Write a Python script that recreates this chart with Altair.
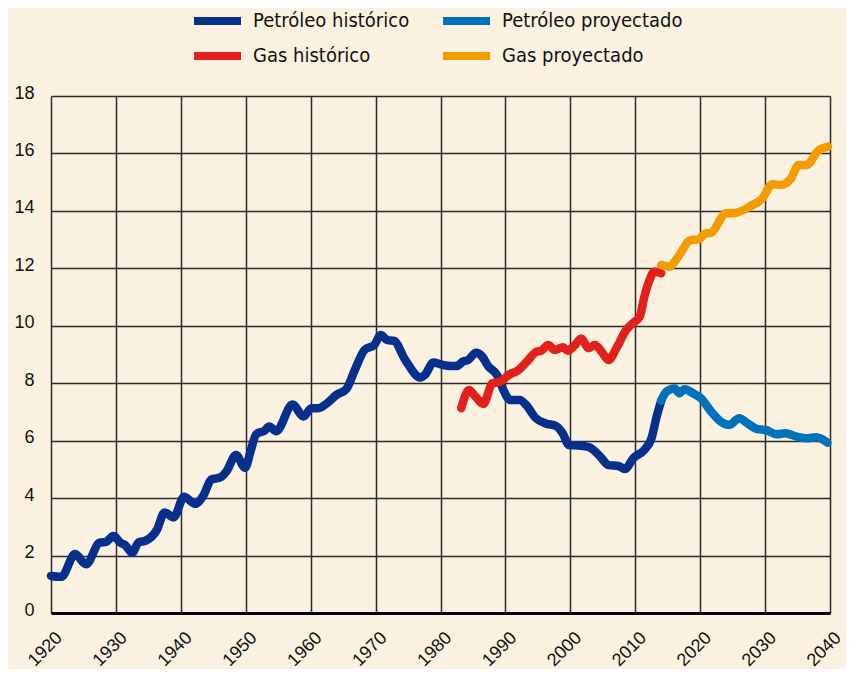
import altair as alt
import pandas as pd

series_names = ["Petróleo histórico", "Gas histórico", "Petróleo proyectado", "Gas proyectado"]
series_colors = ["#06308B", "#E3211C", "#0072BC", "#F29C00"]

oil_hist_years = [1920, 1921.6, 1923.7, 1925.4, 1927.5, 1928.5, 1929.6, 1930.8, 1931.4, 1932.5,
                  1933.5, 1934.6, 1936.3, 1937.5, 1938.9, 1940.5, 1942.2, 1943.5, 1944.7, 1946.1,
                  1947, 1948.5, 1949.9, 1950.8, 1951.6, 1952.9, 1953.6, 1954.7, 1957.2, 1958.9,
                  1960.1, 1961.2, 1962.5, 1964, 1965.5, 1966.8, 1968.3, 1969.8, 1970.8, 1971.8,
                  1972.8, 1974.6, 1976.9, 1977.6, 1978.9, 1980.3, 1981.5, 1982.5, 1983.5, 1984.2,
                  1985.5, 1986.3, 1987.4, 1988.7, 1989.7, 1990.7, 1992.2, 1993.2, 1994.7, 1996.2,
                  1997.8, 1998.8, 1999.8, 2001.3, 2002.9, 2004.4, 2005.9, 2007.4, 2008.4, 2009.7,
                  2011.4, 2012.5, 2013.3, 2014]
oil_hist_values = [1.29, 1.26, 2.05, 1.7, 2.45, 2.48, 2.68, 2.43, 2.37, 2.1,
                   2.46, 2.52, 2.89, 3.5, 3.33, 4.05, 3.8, 4.1, 4.65, 4.72,
                   4.92, 5.5, 5.06, 5.68, 6.22, 6.35, 6.49, 6.33, 7.26, 6.84,
                   7.13, 7.13, 7.3, 7.6, 7.8, 8.46, 9.16, 9.33, 9.68, 9.5,
                   9.48, 8.8, 8.2, 8.29, 8.72, 8.64, 8.6, 8.6, 8.76, 8.8,
                   9.06, 8.96, 8.58, 8.29, 7.76, 7.42, 7.42, 7.24, 6.78, 6.6,
                   6.51, 6.26, 5.85, 5.83, 5.77, 5.5, 5.15, 5.12, 5.01, 5.39,
                   5.68, 6.08, 6.84, 7.4]

oil_proj_years = [2014, 2014.8, 2016.1, 2016.8, 2017.6, 2018.9, 2020.1, 2021.7, 2023.2, 2024.5,
                  2026, 2027.3, 2028.8, 2030.1, 2031.8, 2033.1, 2034.9, 2036.4, 2037.9, 2039.6]
oil_proj_values = [7.4, 7.71, 7.82, 7.65, 7.79, 7.65, 7.48, 7.01, 6.66, 6.55,
                   6.78, 6.6, 6.4, 6.37, 6.22, 6.26, 6.14, 6.08, 6.12, 5.93]

gas_hist_years = [1983.2, 1984.4, 1985.4, 1986.6, 1988, 1989.2, 1990.5, 1992, 1993.3, 1994.8,
                  1995.5, 1996.6, 1997.6, 1998.9, 1999.6, 2000.7, 2001.7, 2002.8, 2003.8, 2004.8,
                  2005.9, 2007.1, 2008.6, 2009.9, 2010.7, 2011.4, 2012.2, 2012.9, 2014]
gas_hist_values = [7.13, 7.76, 7.53, 7.28, 8.0, 8.05, 8.29, 8.46, 8.75, 9.1,
                   9.13, 9.33, 9.16, 9.25, 9.13, 9.33, 9.56, 9.22, 9.33, 9.1,
                   8.81, 9.22, 9.85, 10.14, 10.32, 11.01, 11.59, 11.88, 11.83]

gas_proj_years = [2014, 2015.3, 2016.6, 2018.6, 2019.7, 2020.7, 2021.7, 2024, 2025.1, 2027.8,
                  2029.6, 2031.1, 2032.4, 2033.9, 2035.2, 2036.4, 2038.2, 2039.7]
gas_proj_values = [12.12, 12.06, 12.4, 12.99, 13.0, 13.2, 13.24, 13.92, 13.92, 14.17,
                   14.44, 14.93, 14.9, 15.1, 15.6, 15.6, 16.1, 16.24]

x_ticks = list(range(1920, 2041, 10))
y_ticks = list(range(0, 19, 2))

frames = []
for name, ys, vs in [
    ("Petróleo histórico", oil_hist_years, oil_hist_values),
    ("Petróleo proyectado", oil_proj_years, oil_proj_values),
    ("Gas histórico", gas_hist_years, gas_hist_values),
    ("Gas proyectado", gas_proj_years, gas_proj_values),
]:
    frames.append(pd.DataFrame({"year": ys, "value": vs, "serie": name}))
df = pd.concat(frames, ignore_index=True)

bg = "#FAF1E1"

chart = alt.Chart(df).mark_line(
    strokeWidth=8.5, strokeCap="round", strokeJoin="round", interpolate="monotone"
).encode(
    x=alt.X("year:Q", scale=alt.Scale(domain=[1920, 2040], nice=False, zero=False),
            axis=alt.Axis(values=x_ticks, format="d", title=None, labelAngle=-45,
                          labelAlign="center", labelBaseline="middle", labelPadding=36,
                          labelOffset=-6, ticks=False, grid=True, gridColor="#2b2b2b",
                          gridWidth=1.5, domain=True, domainColor="#000000", domainWidth=3,
                          labelFont="Liberation Sans", labelFontSize=18, labelColor="#111111",
                          labelFlush=False, labelOverlap=False)),
    y=alt.Y("value:Q", scale=alt.Scale(domain=[0, 18], nice=False),
            axis=alt.Axis(values=y_ticks, title=None, ticks=False, grid=True,
                          gridColor="#2b2b2b", gridWidth=1.5, domain=False,
                          labelPadding=17, labelBaseline="middle", labelOffset=-3,
                          labelFont="Liberation Sans", labelFontSize=18, labelColor="#111111")),
    color=alt.Color("serie:N", scale=alt.Scale(domain=series_names, range=series_colors),
                    legend=alt.Legend(title=None, orient="none", legendX=156, legendY=-94,
                                      columns=2, symbolType="M-2.13,0H1", symbolSize=900,
                                      symbolStrokeWidth=8, labelOffset=8, columnPadding=17,
                                      rowPadding=0, padding=0, labelLimit=300,
                                      labelFont="Liberation Sans Narrow, DejaVu Sans Condensed, sans-serif",
                                      labelFontSize=20, labelColor="#111111")),
    order=alt.Order("year:Q"),
).properties(
    width=779, height=517,
    autosize=alt.AutoSizeParams(type="none"),
    padding={"left": 43, "top": 88, "right": 16, "bottom": 56},
    background=bg,
).configure_view(stroke=None)

chart.save("out.html", embed_options={"renderer": "svg", "actions": False})
